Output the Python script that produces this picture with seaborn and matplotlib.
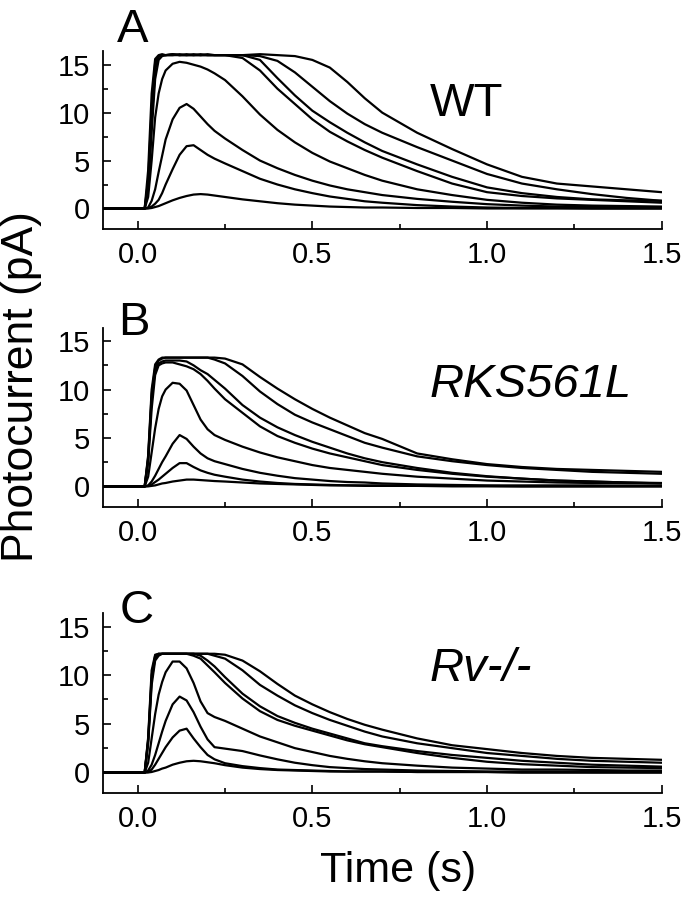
import matplotlib
matplotlib.use("Agg")
import matplotlib.pyplot as plt
import seaborn as sns
import pandas as pd

# time grid (s) shared by every trace
time_s = [-0.1, 0.0, 0.02, 0.03, 0.04, 0.05, 0.06, 0.07, 0.08, 0.10, 0.12, 0.14,
          0.16, 0.18, 0.20, 0.22, 0.25, 0.30, 0.35, 0.40, 0.45, 0.50, 0.55, 0.60,
          0.65, 0.70, 0.80, 0.90, 1.00, 1.10, 1.20, 1.30, 1.40, 1.50]

# Panel A - WT (pA)
wt_1 = [0, 0, 0, 0, 0.05, 0.15, 0.25, 0.4, 0.55, 0.85, 1.1, 1.3, 1.45, 1.5, 1.45, 1.35, 1.2,
        0.95, 0.75, 0.55, 0.4, 0.3, 0.2, 0.15, 0.1, 0.1, 0.05, 0.05, 0, 0, 0, 0, 0, 0]
wt_2 = [0, 0, 0, 0.05, 0.2, 0.5, 0.9, 1.6, 2.5, 4.1, 5.6, 6.5, 6.6, 6.1, 5.6, 5.2, 4.7,
        3.9, 3.1, 2.5, 2.0, 1.6, 1.25, 1.0, 0.75, 0.6, 0.35, 0.2, 0.1, 0.05, 0.05, 0, 0, 0]
wt_3 = [0, 0, 0, 0.1, 0.8, 2.0, 3.8, 5.5, 7.2, 9.3, 10.5, 10.9, 10.4, 9.6, 8.8, 8.1, 7.3,
        6.1, 5.0, 4.2, 3.5, 2.9, 2.4, 2.0, 1.7, 1.4, 1.0, 0.7, 0.45, 0.3, 0.2, 0.15, 0.1, 0.1]
wt_4 = [0, 0, 0, 1.2, 5.0, 9.5, 12.0, 13.5, 14.4, 15.1, 15.3, 15.2, 15.0, 14.8, 14.5, 14.1, 13.4,
        11.7, 9.8, 8.2, 6.9, 5.8, 4.9, 4.2, 3.5, 2.9, 2.0, 1.4, 0.9, 0.6, 0.4, 0.3, 0.25, 0.2]
wt_5 = [0, 0, 0, 2.0, 8.0, 13.5, 15.5, 15.9, 16.0, 16.0, 16.0, 16.1, 16.0, 16.0, 16.0, 16.0, 16.0,
        15.7, 14.4, 12.5, 10.9, 9.3, 8.0, 7.0, 6.1, 5.3, 3.9, 2.6, 1.7, 1.3, 1.05, 0.9, 0.75, 0.6]
wt_6 = [0, 0, 0, 2.5, 9.0, 14.5, 15.8, 16.0, 16.0, 16.1, 16.0, 16.0, 16.0, 16.1, 16.0, 16.0, 16.0,
        16.0, 15.5, 13.6, 11.8, 10.2, 9.0, 7.9, 6.9, 6.0, 4.6, 3.3, 2.2, 1.6, 1.2, 0.95, 0.85, 0.8]
wt_7 = [0, 0, 0, 3.0, 10.5, 15.2, 15.9, 16.0, 16.0, 16.1, 16.0, 16.0, 16.1, 16.0, 16.0, 16.0, 16.0,
        16.0, 15.9, 15.4, 14.2, 12.7, 11.2, 9.9, 8.8, 7.9, 6.4, 5.0, 3.6, 2.6, 2.0, 1.5, 1.1, 0.8]
wt_8 = [0, 0, 0, 4.0, 12.0, 15.6, 16.0, 16.1, 16.0, 16.0, 16.1, 16.0, 16.0, 16.0, 16.1, 16.0, 16.0,
        16.0, 16.1, 16.0, 15.9, 15.5, 14.7, 13.2, 11.5, 10.0, 7.9, 6.2, 4.6, 3.3, 2.6, 2.3, 2.0, 1.7]

# Panel B - RKS561L (pA)
rks_1 = [0, 0, 0, 0, 0.05, 0.1, 0.2, 0.3, 0.35, 0.5, 0.6, 0.7, 0.7, 0.65, 0.6, 0.55, 0.5,
         0.4, 0.3, 0.25, 0.2, 0.15, 0.1, 0.1, 0.05, 0.05, 0.05, 0, 0, 0, 0, 0, 0, 0]
rks_2 = [0, 0, 0, 0.05, 0.2, 0.45, 0.7, 1.0, 1.3, 1.9, 2.4, 2.4, 2.0, 1.65, 1.4, 1.2, 1.0,
         0.7, 0.5, 0.35, 0.25, 0.2, 0.15, 0.1, 0.1, 0.1, 0.05, 0.05, 0.05, 0, 0, 0, 0, 0]
rks_3 = [0, 0, 0, 0.1, 0.5, 1.1, 1.8, 2.5, 3.1, 4.4, 5.3, 4.9, 4.1, 3.4, 2.9, 2.6, 2.3,
         1.8, 1.4, 1.1, 0.85, 0.7, 0.55, 0.45, 0.4, 0.3, 0.2, 0.15, 0.1, 0.1, 0.1, 0.1, 0.05, 0.05]
rks_4 = [0, 0, 0, 1.0, 3.5, 6.0, 8.0, 9.3, 10.0, 10.7, 10.6, 9.9, 8.4, 6.9, 5.9, 5.3, 4.8,
         4.1, 3.5, 3.0, 2.6, 2.2, 1.9, 1.7, 1.5, 1.3, 1.0, 0.8, 0.6, 0.5, 0.4, 0.35, 0.3, 0.3]
rks_5 = [0, 0, 0, 2.5, 8.0, 11.5, 12.5, 12.7, 12.8, 12.8, 12.6, 12.4, 12.1, 11.6, 10.9, 10.1, 9.0,
         7.6, 6.2, 5.2, 4.5, 3.9, 3.4, 3.0, 2.6, 2.2, 1.7, 1.3, 1.0, 0.8, 0.6, 0.5, 0.4, 0.35]
rks_6 = [0, 0, 0, 2.8, 9.0, 12.0, 12.7, 12.9, 13.0, 13.0, 13.0, 12.9, 12.5, 12.0, 11.6, 11.0, 10.1,
         8.4, 7.1, 6.1, 5.3, 4.6, 4.0, 3.4, 2.9, 2.5, 1.9, 1.4, 1.05, 0.8, 0.6, 0.5, 0.4, 0.3]
rks_7 = [0, 0, 0, 3.0, 9.5, 12.3, 13.0, 13.2, 13.3, 13.3, 13.3, 13.3, 13.3, 13.3, 13.3, 13.1, 12.7,
         11.4, 9.8, 8.5, 7.4, 6.6, 5.9, 5.2, 4.5, 4.0, 3.1, 2.6, 2.2, 1.9, 1.7, 1.5, 1.4, 1.3]
rks_8 = [0, 0, 0, 3.2, 10.0, 12.6, 13.1, 13.3, 13.3, 13.3, 13.3, 13.3, 13.3, 13.3, 13.3, 13.3, 13.2,
         12.6, 11.3, 10.1, 9.0, 8.0, 7.1, 6.3, 5.5, 4.9, 3.4, 2.8, 2.3, 2.0, 1.8, 1.7, 1.6, 1.5]

# Panel C - Rv-/- (pA)
rv_1 = [0, 0, 0, 0, 0.05, 0.15, 0.25, 0.4, 0.5, 0.8, 1.0, 1.15, 1.2, 1.15, 1.05, 0.95, 0.75,
        0.5, 0.35, 0.25, 0.2, 0.15, 0.1, 0.1, 0.1, 0.1, 0.05, 0.05, 0.05, 0, 0, 0, 0, 0]
rv_2 = [0, 0, 0, 0.05, 0.3, 0.8, 1.4, 2.0, 2.6, 3.6, 4.3, 4.5, 3.5, 2.6, 1.8, 1.35, 0.95,
        0.65, 0.45, 0.3, 0.25, 0.2, 0.15, 0.1, 0.1, 0.1, 0.05, 0.05, 0.05, 0, 0, 0, 0, 0]
rv_3 = [0, 0, 0, 0.2, 0.8, 1.8, 3.0, 4.2, 5.3, 7.0, 7.8, 7.4, 6.2, 4.7, 3.4, 2.6, 2.45,
        2.2, 1.75, 1.35, 1.0, 0.75, 0.55, 0.45, 0.35, 0.3, 0.2, 0.15, 0.1, 0.1, 0.1, 0.05, 0.05, 0.05]
rv_4 = [0, 0, 0, 1.0, 3.5, 6.0, 8.0, 9.3, 10.3, 11.4, 11.4, 10.7, 9.2, 7.3, 6.1, 5.7, 5.3,
        4.5, 3.7, 3.1, 2.5, 2.1, 1.7, 1.4, 1.15, 0.95, 0.7, 0.5, 0.4, 0.3, 0.3, 0.25, 0.2, 0.2]
rv_5 = [0, 0, 0, 3.0, 9.0, 11.5, 12.0, 12.2, 12.2, 12.2, 12.2, 12.2, 12.0, 11.7, 11.0, 10.3, 9.2,
        7.6, 6.3, 5.4, 4.8, 4.3, 3.8, 3.3, 2.9, 2.6, 2.0, 1.5, 1.1, 0.85, 0.7, 0.55, 0.5, 0.45]
rv_6 = [0, 0, 0, 3.2, 9.5, 11.8, 12.1, 12.2, 12.2, 12.2, 12.2, 12.2, 12.2, 12.0, 11.5, 10.9, 9.8,
        8.1, 6.8, 5.8, 5.1, 4.5, 4.0, 3.5, 3.0, 2.7, 2.2, 1.8, 1.5, 1.2, 1.0, 0.8, 0.7, 0.6]
rv_7 = [0, 0, 0, 3.4, 10.0, 12.0, 12.2, 12.2, 12.2, 12.2, 12.2, 12.2, 12.2, 12.2, 12.2, 12.0, 11.7,
        10.5, 9.0, 7.9, 6.9, 6.1, 5.4, 4.8, 4.2, 3.7, 3.0, 2.5, 2.0, 1.7, 1.4, 1.2, 1.1, 1.0]
rv_8 = [0, 0, 0, 3.6, 10.5, 12.1, 12.2, 12.2, 12.2, 12.2, 12.2, 12.2, 12.2, 12.2, 12.2, 12.2, 12.1,
        11.5, 10.4, 9.1, 7.9, 7.0, 6.2, 5.5, 4.9, 4.4, 3.5, 2.8, 2.4, 2.0, 1.7, 1.5, 1.4, 1.3]

panels = [
    ("A", "WT", [wt_1, wt_2, wt_3, wt_4, wt_5, wt_6, wt_7, wt_8]),
    ("B", "RKS561L", [rks_1, rks_2, rks_3, rks_4, rks_5, rks_6, rks_7, rks_8]),
    ("C", "Rv-/-", [rv_1, rv_2, rv_3, rv_4, rv_5, rv_6, rv_7, rv_8]),
]

sns.set_style("ticks")
plt.rcParams["font.family"] = ["Liberation Sans", "DejaVu Sans"]
plt.rcParams["text.color"] = "black"
plt.rcParams["axes.labelcolor"] = "black"
plt.rcParams["xtick.color"] = "black"
plt.rcParams["ytick.color"] = "black"

fig = plt.figure(figsize=(6.85, 9.0), dpi=100)

# axes rectangles [left, bottom, width, height]
rects = [[0.150, 0.746, 0.816, 0.197],
         [0.150, 0.437, 0.816, 0.199],
         [0.150, 0.119, 0.816, 0.200]]
letter_pos = [(0.171, 0.953), (0.172, 0.628), (0.175, 0.308)]
label_y = [0.633, 0.615, 0.62]

for (letter, name, traces), rect, lpos, ly in zip(panels, rects, letter_pos, label_y):
    ax = fig.add_axes(rect)
    df = pd.DataFrame({
        "time": time_s * len(traces),
        "current": [v for tr in traces for v in tr],
        "trace": [i for i, tr in enumerate(traces) for _ in tr],
    })
    sns.lineplot(data=df, x="time", y="current", units="trace", estimator=None,
                 color="black", linewidth=1.6, ax=ax, legend=False)

    ax.set_xlim(-0.1, 1.5)
    ax.set_ylim(-2.1, 16.4)
    ax.set_xticks([0.0, 0.5, 1.0, 1.5])
    ax.set_xticklabels(["0.0", "0.5", "1.0", "1.5"])
    ax.set_xticks([0.25, 0.75, 1.25], minor=True)
    ax.set_yticks([0, 5, 10, 15])
    ax.set_yticks([2.5, 7.5, 12.5], minor=True)
    ax.tick_params(which="major", direction="in", length=6, width=1.2,
                   labelsize=21, pad=9, colors="black")
    ax.tick_params(which="minor", direction="in", length=3.5, width=1.2, colors="black")
    ax.set_xlabel("")
    ax.set_ylabel("")
    sns.despine(ax=ax)
    for s in ["left", "bottom"]:
        ax.spines[s].set_linewidth(1.3)
        ax.spines[s].set_color("black")

    style = "normal" if name == "WT" else "italic"
    ax.text(0.585, ly, name, transform=ax.transAxes, fontsize=34,
            style=style, ha="left", va="baseline", color="black")
    fig.text(lpos[0], lpos[1], letter, fontsize=34, ha="left", va="baseline", color="black")

fig.text(0.032, 0.571, "Photocurrent (pA)", rotation=90, fontsize=32,
         ha="center", va="center", color="black")
fig.text(0.581, 0.02, "Time (s)", fontsize=31, ha="center", va="baseline", color="black")

plt.savefig("out.png", dpi=100)
